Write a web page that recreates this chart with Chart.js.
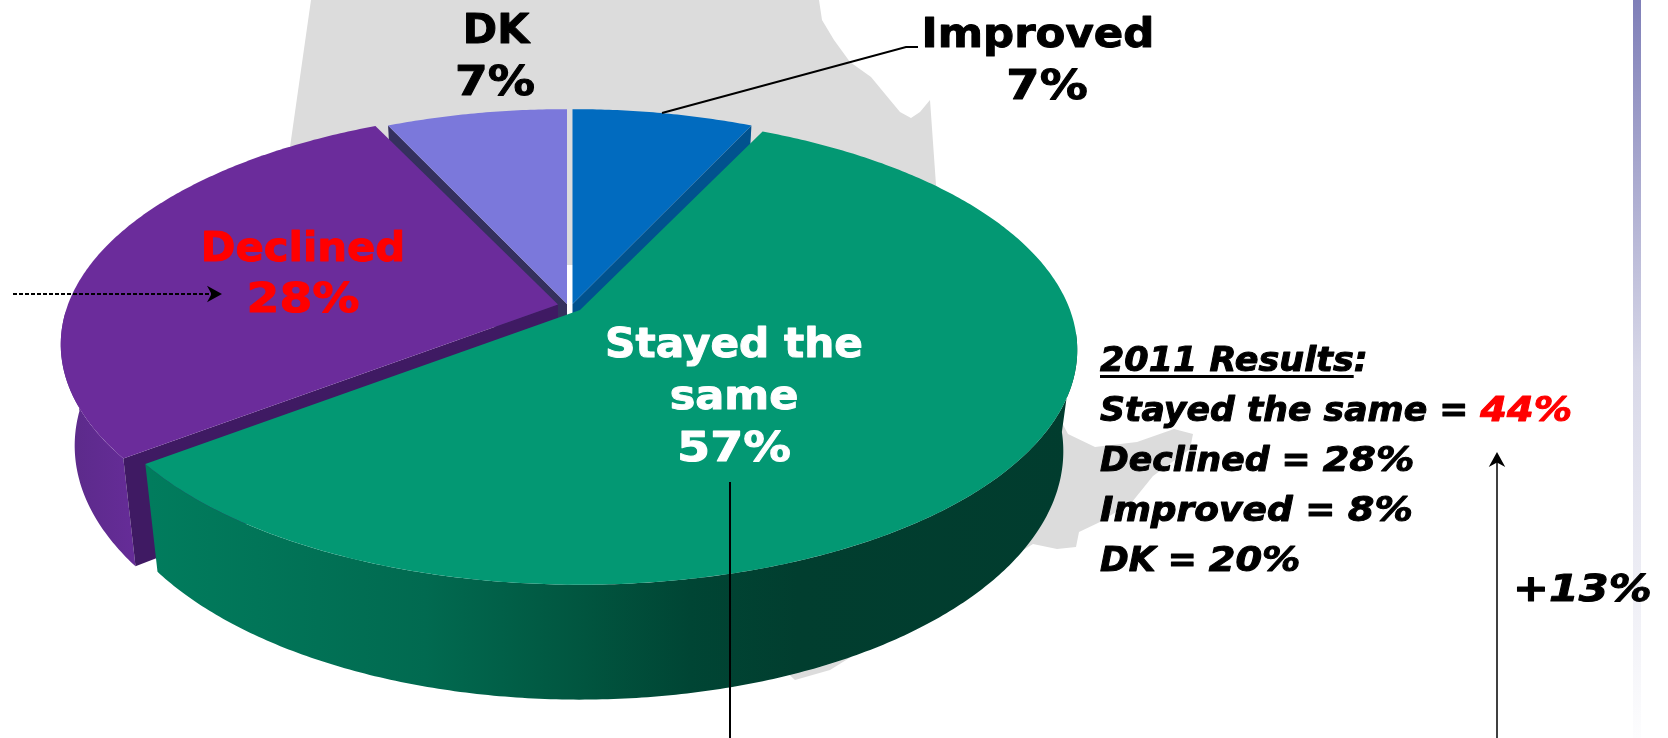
<!DOCTYPE html>
<html>
<head>
<meta charset="utf-8">
<title>2012 results</title>
<style>
  html, body { margin: 0; padding: 0; background: #fff; overflow: hidden; }
  canvas { display: block; }
</style>
<script src="https://cdn.jsdelivr.net/npm/chart.js@4/dist/chart.umd.js"></script>
</head>
<body>
<canvas id="pie" width="1668" height="738"></canvas>
<script>
const categories = ['Improved', 'Stayed the same', 'Declined', 'DK'];
const values = [7, 57, 28, 7];
const results2011Labels = ['Stayed the same', 'Declined', 'Improved', 'DK'];
const results2011Values = [44, 28, 8, 20];
const change = 13;

const faceColors = ['#016bbf', '#039873', '#6b2c9b', '#7b78db'];
const cutColors = ['#01528e', null, '#3f1a63', '#35305e'];
const cutEdge = ['end', null, 'start', 'start'];
const drawOrder = [3, 0, 2, 1];

// where each slice's tip lands once it is pulled out of the pie
const tips = [[572.5, 304], [580, 310], [558, 304.5], [567, 304]];
const rimScale = [0.98, 1, 1, 0.98];
const listStretch = [1.05, 1.05, 1.09, 1.05];
const RX = 490;
const RY = 228;
const PERSPECTIVE = 0.17;
const THICKNESS = 99;
const BOTTOM_X = 0.972;
const BOTTOM_Y = 1.058;

const mapOutline = [
  [311, 0], [819, 0], [822, 20], [834, 40], [850, 62], [871, 77], [890, 100], [900, 112], [911, 118], [920, 112],
  [930, 100], [936, 185], [1068, 434], [1095, 447], [1137, 442], [1174, 429], [1193, 434],
  [1190, 449], [1153, 476], [1132, 502], [1100, 522], [1079, 532], [1076, 547], [1057, 549],
  [1033, 544], [830, 670], [795, 680], [600, 500], [290, 147],
];

function project(theta, i, bottom) {
  const tip = tips[i];
  const u = Math.sin(theta);
  const v = Math.cos(theta);
  const s = rimScale[i] / (1 + PERSPECTIVE * v);
  if (bottom) {
    return [tip[0] + BOTTOM_X * RX * u * s, tip[1] + THICKNESS - BOTTOM_Y * RY * v * s];
  }
  return [tip[0] + RX * u * s, tip[1] - RY * v * s / rimScale[i]];
}

function rimPoints(from, to, i, bottom) {
  const pts = [];
  const steps = Math.ceil(Math.abs(to - from) / 0.01);
  for (let k = 0; k <= steps; k++) {
    pts.push(project(from + (to - from) * k / steps, i, bottom));
  }
  return pts;
}

function fillPoly(ctx, pts, fill) {
  ctx.beginPath();
  pts.forEach(([x, y], i) => (i ? ctx.lineTo(x, y) : ctx.moveTo(x, y)));
  ctx.closePath();
  ctx.fillStyle = fill;
  ctx.fill();
}

function horizontalGradient(ctx, stops) {
  const first = stops[0][0];
  const last = stops[stops.length - 1][0];
  const g = ctx.createLinearGradient(first, 0, last, 0);
  stops.forEach(([x, c]) => g.addColorStop((x - first) / (last - first), c));
  return g;
}

function drawOuterWall(ctx, from, to, i, fill) {
  fillPoly(ctx, [...rimPoints(from, to, i, false), ...rimPoints(to, from, i, true)], fill);
}

function drawCutWall(ctx, theta, i, fill) {
  const tip = tips[i];
  fillPoly(ctx, [
    project(theta, i, false),
    [tip[0], tip[1]],
    [tip[0], tip[1] + THICKNESS],
    project(theta, i, true),
  ], fill);
}

function drawArrow(ctx, x1, y1, x2, y2, size, width, dash) {
  const angle = Math.atan2(y2 - y1, x2 - x1);
  ctx.save();
  ctx.strokeStyle = '#000';
  ctx.fillStyle = '#000';
  ctx.lineWidth = width;
  ctx.setLineDash(dash);
  ctx.beginPath();
  ctx.moveTo(x1, y1);
  ctx.lineTo(x2 - Math.cos(angle) * size * 0.6, y2 - Math.sin(angle) * size * 0.6);
  ctx.stroke();
  ctx.setLineDash([]);
  ctx.translate(x2, y2);
  ctx.rotate(angle);
  ctx.beginPath();
  ctx.moveTo(0, 0);
  ctx.lineTo(-size, -size * 0.55);
  ctx.lineTo(-size * 0.7, 0);
  ctx.lineTo(-size, size * 0.55);
  ctx.closePath();
  ctx.fill();
  ctx.restore();
}

function drawLine(ctx, pts, width) {
  ctx.strokeStyle = '#000';
  ctx.lineWidth = width;
  ctx.beginPath();
  pts.forEach(([x, y], i) => (i ? ctx.lineTo(x, y) : ctx.moveTo(x, y)));
  ctx.stroke();
}

// the slide font is wider and heavier than DejaVu, so stretch and thicken it a bit.
// returns the width it took on the page
function text(ctx, str, x, y, color, font, stretch, align) {
  ctx.save();
  ctx.font = font;
  ctx.fillStyle = color;
  ctx.strokeStyle = color;
  ctx.lineWidth = 1;
  ctx.lineJoin = 'round';
  ctx.textAlign = align || 'center';
  ctx.textBaseline = 'alphabetic';
  ctx.translate(x, y);
  ctx.scale(stretch, 1);
  ctx.fillText(str, 0, 0);
  ctx.strokeText(str, 0, 0);
  const width = ctx.measureText(str).width * stretch;
  ctx.restore();
  return width;
}

const backdrop = {
  id: 'backdrop',
  beforeDraw(chart) {
    const ctx = chart.ctx;
    ctx.save();
    ctx.fillStyle = '#fff';
    ctx.fillRect(0, 0, chart.width, chart.height);
    fillPoly(ctx, mapOutline, '#dcdcdc');
    ctx.fillStyle = '#fff';
    ctx.fillRect(566, 265, 8, 50);
    const strip = ctx.createLinearGradient(0, 0, 0, 738);
    strip.addColorStop(0, '#7f7fb8');
    strip.addColorStop(0.5, '#d8d8e8');
    strip.addColorStop(1, '#fdfdfe');
    ctx.fillStyle = strip;
    ctx.fillRect(1633, 0, 8, 738);
    ctx.restore();
  },
};

// the library lays out the angles, this tilts them into the 3D look of the slide
const tiltedPie = {
  id: 'tiltedPie',
  beforeDatasetsDraw(chart) {
    const ctx = chart.ctx;
    const arcs = chart.getDatasetMeta(0).data;
    ctx.save();
    drawOrder.forEach((i) => {
      const arc = arcs[i];
      const from = arc.startAngle + Math.PI / 2;
      const to = arc.endAngle + Math.PI / 2;
      const tip = tips[i];
      if (categories[i] === 'Declined') {
        drawOuterWall(ctx, from, from + 0.62, i, horizontalGradient(ctx, [[60, '#5a2a88'], [131, '#652c97']]));
      }
      if (categories[i] === 'Stayed the same') {
        drawOuterWall(ctx, to, Math.PI * 0.53, i, horizontalGradient(ctx, [
          [150, '#017c5d'], [425, '#016a50'], [585, '#01553f'], [691, '#004534'], [798, '#013e2f'], [1080, '#013c2e'],
        ]));
      }
      if (cutEdge[i]) {
        drawCutWall(ctx, cutEdge[i] === 'start' ? from : to, i, cutColors[i]);
      }
      fillPoly(ctx, [[tip[0], tip[1]], ...rimPoints(from, to, i, false)], arc.options.backgroundColor);
    });
    ctx.restore();
    return false;
  },
};

const annotations = {
  id: 'annotations',
  afterDraw(chart) {
    const ctx = chart.ctx;
    const labelFont = 'bold 41px "DejaVu Sans"';
    const listFont = 'italic bold 33px "DejaVu Sans"';
    ctx.save();
    text(ctx, 'DK', 496, 43, '#000', labelFont, 1.01);
    text(ctx, `${values[3]}%`, 495, 95, '#000', labelFont, 1.15);
    text(ctx, 'Improved', 1038, 47, '#000', labelFont, 1.06);
    text(ctx, `${values[0]}%`, 1047, 99, '#000', labelFont, 1.17);
    text(ctx, 'Declined', 303, 261, '#f00', labelFont, 1.02);
    text(ctx, `${values[2]}%`, 303, 312, '#f00', labelFont, 1.15);
    text(ctx, 'Stayed the', 734, 357, '#fff', labelFont, 1.03);
    text(ctx, 'same', 734, 409, '#fff', labelFont, 1.05);
    text(ctx, `${values[1]}%`, 734, 461, '#fff', labelFont, 1.16);

    drawLine(ctx, [[662, 113], [906, 47], [918, 47]], 2);
    drawArrow(ctx, 13, 294, 222, 294, 15, 2, [4, 2]);
    drawLine(ctx, [[730, 482], [730, 738]], 2);
    drawArrow(ctx, 1497, 738, 1497, 452, 15, 1.5, []);

    const headWidth = text(ctx, '2011 Results', 1100, 371, '#000', listFont, 1.06, 'left');
    text(ctx, ':', 1100 + headWidth, 371, '#000', listFont, 1.06, 'left');
    ctx.fillStyle = '#000';
    ctx.fillRect(1100, 375, headWidth, 3);
    results2011Labels.forEach((label, i) => {
      const y = 421 + i * 50;
      const w = text(ctx, `${label} = `, 1100, y, '#000', listFont, listStretch[i], 'left');
      text(ctx, `${results2011Values[i]}%`, 1100 + w, y, i === 0 ? '#f00' : '#000', listFont, 1.16, 'left');
    });
    text(ctx, `+${change}%`, 1513, 601, '#000', 'italic bold 37px "DejaVu Sans"', 1.16, 'left');
    ctx.restore();
  },
};

new Chart(document.getElementById('pie'), {
  type: 'pie',
  data: {
    labels: categories,
    datasets: [{ data: values, backgroundColor: faceColors, borderWidth: 0 }],
  },
  options: {
    responsive: false,
    animation: false,
    plugins: {
      legend: { display: false },
      tooltip: { enabled: false },
    },
  },
  plugins: [backdrop, tiltedPie, annotations],
});
</script>
</body>
</html>
